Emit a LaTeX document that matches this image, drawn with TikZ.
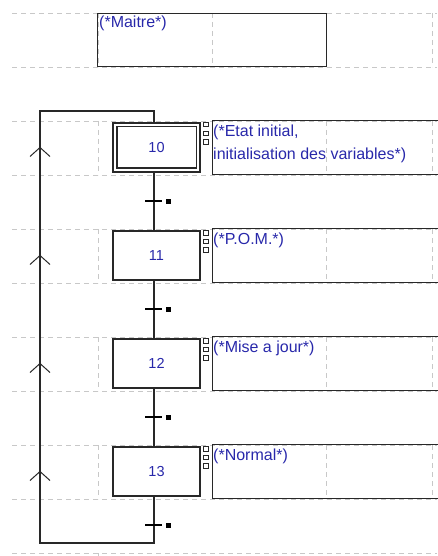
\documentclass[tikz,border=0pt]{standalone}
\usepackage{fontspec}
\setmainfont{Liberation Sans}
\definecolor{txtblue}{RGB}{40,40,170}
\definecolor{gridgray}{RGB}{200,200,200}
\definecolor{lineblk}{RGB}{40,40,40}
\begin{document}
\begin{tikzpicture}[x=1pt,y=-1pt,
  gridline/.style={draw=gridgray, dash pattern=on 5pt off 4pt, line width=0.8pt},
  stepbox/.style={draw=lineblk, line width=1.2pt, fill=white, minimum width=87pt, minimum height=49pt, inner sep=0pt, text=txtblue, font=\fontsize{14.5}{17}\selectfont},
  combox/.style={draw=lineblk, line width=1.4pt, minimum width=228pt, minimum height=54pt, inner sep=0pt, anchor=north west},
  comtext/.style={anchor=base west, inner sep=0pt, text=txtblue, font=\fontsize{16}{23}\selectfont, align=left},
  link/.style={draw=lineblk, line width=1.2pt},
  trtick/.style={draw=black, line width=2.2pt},
  trsq/.style={fill=black, draw=none, minimum size=5pt, inner sep=0pt},
  minisq/.style={draw=lineblk, line width=0.8pt}
]
\useasboundingbox (0,0) rectangle (437,556);

% grid
\foreach \t in {13,121,229,337,445} {
  \draw[gridline] (12,\t) -- (437,\t);
  \draw[gridline] (12,\t+54) -- (437,\t+54);
  \foreach \x in {98,212,326,432} \draw[gridline] (\x,\t) -- (\x,\t+54);
}
\draw[gridline] (12,553) -- (437,553);
\draw[gridline] (98,553) -- (98,556);

% master comment
\node[combox, minimum width=229pt, minimum height=53pt] (m) at (97,13) {};
\node[comtext] (tm) at (99,28) {(*Maitre*)};

% steps
\node[stepbox] (s10) at (156.5,147.5) {10};
\node[stepbox] (s11) at (156.5,255.5) {11};
\node[stepbox] (s12) at (156.5,363.5) {12};
\node[stepbox] (s13) at (156.5,471.5) {13};
\draw[lineblk, line width=1.2pt] ([shift={(4.5,4.5)}]s10.north west) rectangle ([shift={(-4.5,-4.5)}]s10.south east);

% small squares
\foreach \s in {s10,s11,s12,s13} {
  \foreach \i in {0,1,2}
    \draw[minisq] ([shift={(3,\i*8.7)}]\s.north east) rectangle ++(4.5,4.5);
}

% comments
\node[combox] (c10) at (212,120) {};
\node[combox] (c11) at (212,228) {};
\node[combox] (c12) at (212,336) {};
\node[combox] (c13) at (212,444) {};
\node[comtext] (tc10) at (213,160) {(*Etat initial,\\initialisation des variables*)};
\node[comtext] (tc11) at (213,244) {(*P.O.M.*)};
\node[comtext] (tc12) at (213,352) {(*Mise a jour*)};
\node[comtext] (tc13) at (213,460) {(*Normal*)};

% transitions
\coordinate (t10) at (154,201);
\coordinate (t11) at (154,309);
\coordinate (t12) at (154,417);
\coordinate (t13) at (154,525);

% links
\draw[link] (s10.south -| t10) -- (t10) -- (s11.north -| t10);
\draw[link] (s11.south -| t11) -- (t11) -- (s12.north -| t11);
\draw[link] (s12.south -| t12) -- (t12) -- (s13.north -| t12);
\coordinate (ltop) at (154,111);
\coordinate (ltl) at (40,111);
\coordinate (lbot) at (154,543);
\coordinate (lbl) at (40,543);
\draw[link] (s13.south -| t13) -- (t13) -- (lbot) -- (lbl) -- (ltl) -- (ltop) -- (s10.north -| ltop);

\foreach \t in {t10,t11,t12,t13} {
  \draw[trtick] ([xshift=-9pt]\t) -- ([xshift=8pt]\t);
  \node[trsq] at ([xshift=14.5pt]\t) {};
}

% chevrons on return line
\foreach \s in {s10,s11,s12,s13} {
  \coordinate (a\s) at (ltl |- \s.center);
  \draw[link, line width=1pt] ([shift={(-10,9)}]a\s) -- (a\s) -- ([shift={(10,9)}]a\s);
}
\end{tikzpicture}
\end{document}
